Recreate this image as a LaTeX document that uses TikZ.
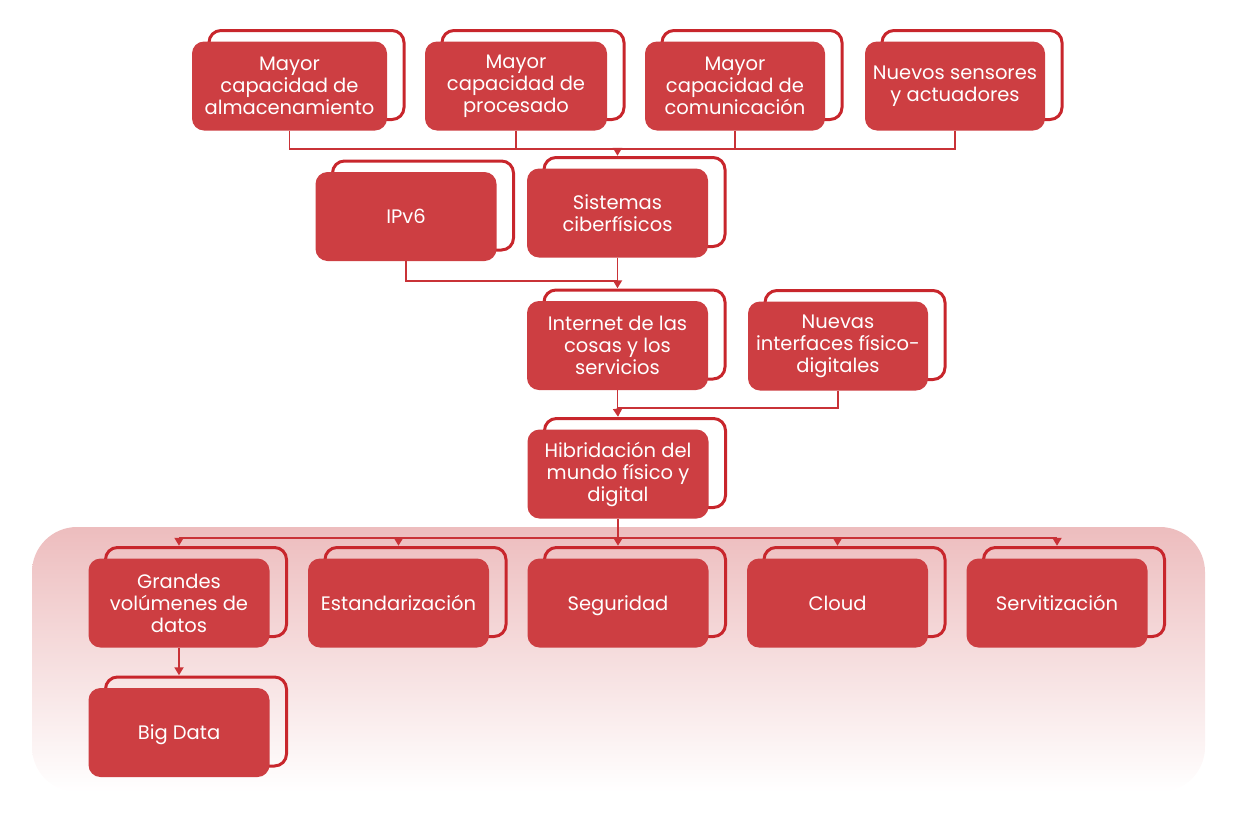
\documentclass[tikz,border=0pt]{standalone}
\usepackage{fontspec}
\setmainfont{Poppins}
\usetikzlibrary{arrows.meta}
\definecolor{boxred}{HTML}{CD3E42}
\definecolor{edgered}{HTML}{C8262C}
\definecolor{linered}{HTML}{C93237}
\definecolor{bgpink}{HTML}{EDBDBE}
\begin{document}
\begin{tikzpicture}[x=1pt,y=-1pt,
  box/.style={fill=boxred, text=white, rounded corners=12pt,
    minimum width=181pt, minimum height=89pt, align=center, inner sep=2pt,
    font=\fontsize{19.5}{22}\selectfont,
    preaction={draw=edgered, line width=3pt, rounded corners=12pt,
      transform canvas={shift={(17pt,11pt)}}}},
  onebox/.style={box, text depth=0pt},
  conn/.style={draw=linered, line width=1.8pt},
  arr/.style={conn, -{Triangle[length=8pt,width=9pt]}}]
\useasboundingbox (0,0) rectangle (1238,830);
% background band
\shade[top color=bgpink, bottom color=white, rounded corners=45pt]
  (32,527) rectangle (1205,792);
% row 1
\node[box, minimum width=195pt] (A) at (289.5,86) {Mayor\\capacidad de\\almacenamiento};
\node[box, minimum width=182pt] (B) at (516,86) {Mayor\\capacidad de\\procesado};
\node[box, minimum width=180pt] (C) at (735,86) {Mayor\\capacidad de\\comunicación};
\node[box, minimum width=180pt] (D) at (955,86) {Nuevos sensores\\y actuadores};
% row 2
\node[onebox] (P) at (406,216.5) {IPv6};
\node[box] (S) at (617.5,213) {Sistemas\\ciberfísicos};
% row 3
\node[box] (I) at (617.5,345.5) {Internet de las\\cosas y los\\servicios};
\node[box, minimum width=180pt] (N) at (838,346) {Nuevas\\interfaces físico-\\digitales};
% row 4
\node[box] (H) at (618,474) {Hibridación del\\mundo físico y\\digital};
% row 5
\node[box] (G) at (179,603) {Grandes\\volúmenes de\\datos};
\node[onebox] (E) at (398.5,603) {Estandarización};
\node[onebox] (Se) at (618,603) {Seguridad};
\node[onebox] (Cl) at (837.5,603) {Cloud};
\node[onebox] (Sv) at (1057,603) {Servitización};
% row 6
\node[onebox] (BD) at (179,732.5) {Big Data};
% junctions
\coordinate (j1) at (617.5,149);
\coordinate (j2) at (617.5,281);
\coordinate (j3) at (617.5,408);
\coordinate (j4) at (618,538);
% row 1 -> Sistemas
\draw[conn] (A.south) |- (j1);
\draw[conn] (D.south) |- (j1);
\draw[conn] (B.south) -- (B.south |- j1);
\draw[conn] (C.south) -- (C.south |- j1);
\draw[arr] (j1) -- ([yshift=12.5pt]S.north);
% row 2 -> Internet
\draw[conn] (P.south) |- (j2);
\draw[conn] (S.south) -- (j2);
\draw[arr] (j2) -- ([yshift=12.5pt]I.north);
% row 3 -> Hibridacion
\draw[conn] (N.south) |- (j3);
\draw[conn] (I.south) -- (j3);
\draw[arr] (j3) -- ([yshift=12.5pt]H.north);
% row 4 -> row 5
\draw[conn] (H.south) -- (j4);
\draw[conn] (G.north |- j4) -- (Sv.north |- j4);
\draw[arr] (G.north |- j4) -- ([yshift=12.5pt]G.north);
\draw[arr] (E.north |- j4) -- ([yshift=12.5pt]E.north);
\draw[arr] (j4) -- ([yshift=12.5pt]Se.north);
\draw[arr] (Cl.north |- j4) -- ([yshift=12.5pt]Cl.north);
\draw[arr] (Sv.north |- j4) -- ([yshift=12.5pt]Sv.north);
% row 5 -> row 6
\draw[arr] (G.south) -- ([yshift=12.5pt]BD.north);
\end{tikzpicture}
\end{document}
